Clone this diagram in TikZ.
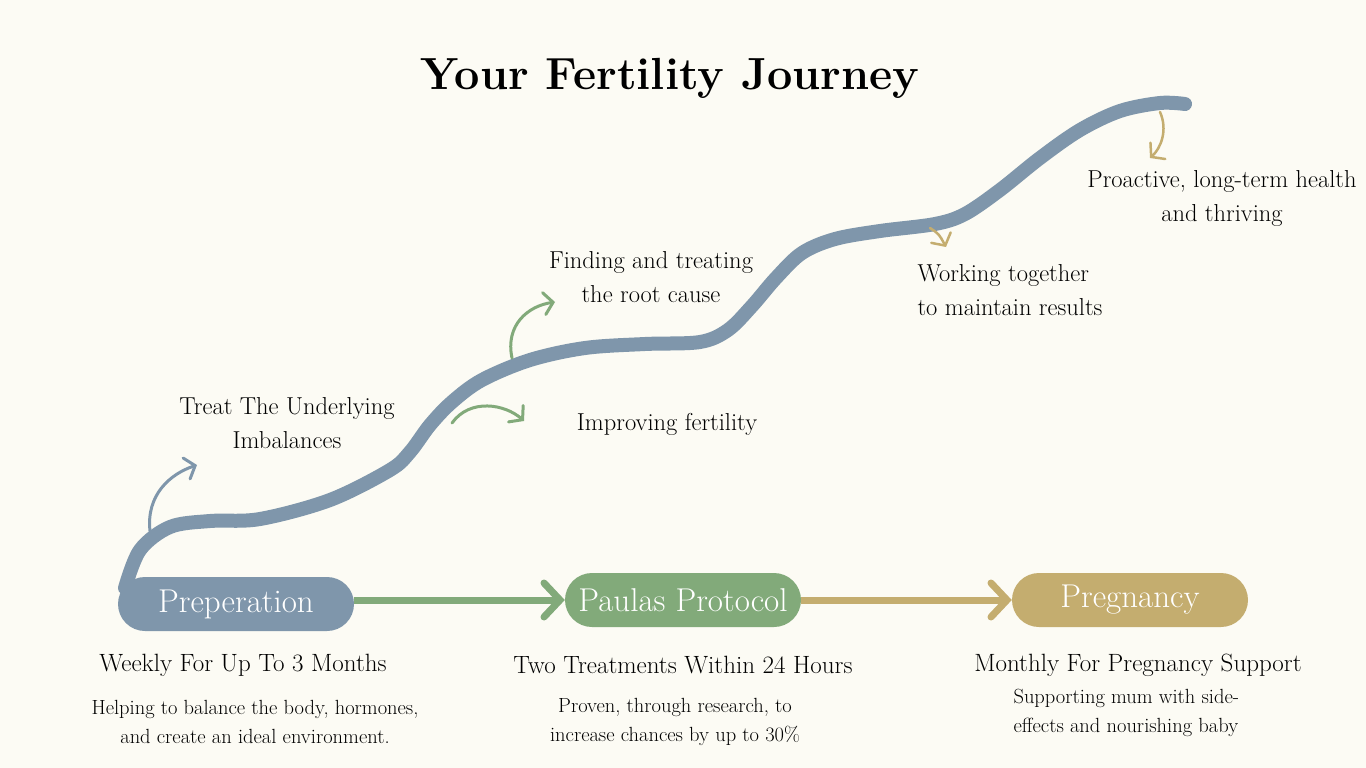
\documentclass[tikz,border=0pt]{standalone}
\usepackage{fontspec}
\usetikzlibrary{arrows.meta}
\definecolor{bgcream}{HTML}{FCFBF4}
\definecolor{slateblue}{HTML}{7F96AB}
\definecolor{sage}{HTML}{82AA7A}
\definecolor{sand}{HTML}{C4AD6F}
\begin{document}
\begin{tikzpicture}[x=1pt, y=-1pt,
    stage/.style={rounded corners=27pt, minimum width=236pt, minimum height=54pt,
        inner sep=0pt, text=white, font=\fontsize{33}{33}\selectfont},
    milestone/.style={font=\fontsize{24.5}{34}\selectfont, align=center},
    headline/.style={font=\fontsize{25}{28}\selectfont},
    detail/.style={font=\fontsize{20.5}{29}\selectfont, align=center},
    flow/.style={line width=7pt, -{Straight Barb[length=16pt, width=34pt, line cap=round]}},
    hint/.style={line width=3pt, line cap=round, -{Straight Barb[length=9pt, width=22pt, line cap=round]}}]
    % Canvas
    \fill[bgcream] (0,0) rectangle (1366,768);
    \useasboundingbox (0,0) rectangle (1366,768);
    \node[font=\fontsize{45}{45}\selectfont\bfseries] (title) at (670,78) {Your Fertility Journey};
    % Journey path
    \draw[slateblue, line width=14pt, line cap=round, line join=round] plot[smooth, tension=0.55]
        coordinates {(125,588) (140,550) (170,527) (210,521) (260,519) (330,500)
        (390,470) (410,452) (430,425) (452,402) (482,380) (530,360) (585,348)
        (645,344) (700,342) (728,330) (752,306) (776,278) (802,253) (835,239)
        (880,231) (935,224) (965,214) (1000,190) (1040,158) (1080,130) (1120,111)
        (1160,103) (1185,104)};
    % Stages
    \node[stage, fill=slateblue] (prep) at (236,604) {Preperation};
    \node[stage, fill=sage] (proto) at (683,600) {Paulas Protocol};
    \node[stage, fill=sand] (preg) at (1130,600) {Pregnancy};
    \draw[flow, sage] (prep.east |- proto) -- (proto.west);
    \draw[flow, sand] (proto.east) -- (preg.west);
    % Path labels
    \node[milestone] (treat) at (287,423) {Treat The Underlying\\Imbalances};
    \node[milestone] (finding) at (651,277) {Finding and treating\\the root cause};
    \node[milestone] (improving) at (667,424) {Improving fertility};
    \node[milestone, align=left, anchor=west] (working) at (914,290) {Working together\\to maintain results};
    \node[milestone] (proactive) at (1222,198) {Proactive, long-term health\\and thriving};
    % Pointers
    \coordinate (treatfrom) at (150,531);
    \coordinate (treatto) at (197,465);
    \coordinate (findfrom) at (512,358);
    \coordinate (findto) at (555,302);
    \coordinate (improvefrom) at (452,423);
    \coordinate (improveto) at (524,421);
    \coordinate (workfrom) at (930,228);
    \coordinate (workto) at (946,247);
    \coordinate (thrivefrom) at (1160,112);
    \coordinate (thriveto) at (1150,158);
    \draw[hint, slateblue] (treatfrom) .. controls (146,495) and (170,474) .. (treatto);
    \draw[hint, sage] (findfrom) .. controls (505,325) and (528,306) .. (findto);
    \draw[hint, sage] (improvefrom) .. controls (470,398) and (505,404) .. (improveto);
    \draw[hint, sand, line width=2.5pt] (workfrom) .. controls (939,234) .. (workto);
    \draw[hint, sand, line width=2.5pt] (thrivefrom) .. controls (1168,130) and (1161,148) .. (thriveto);
    % Stage notes
    \node[headline] (weekly) at (243,665) {Weekly For Up To 3 Months};
    \node[detail] (helping) at (255,722) {Helping to balance the body, hormones,\\and create an ideal environment.};
    \node[headline] (twotreat) at (683,665) {Two Treatments Within 24 Hours};
    \node[detail] (proven) at (675,722) {Proven, through research, to\\increase chances by up to 30\%};
    \node[headline] (monthly) at (1138,665) {Monthly For Pregnancy Support};
    \node[detail, align=left, anchor=west] (supporting) at (1010,713) {Supporting mum with side-\\effects and nourishing baby};
\end{tikzpicture}
\end{document}
